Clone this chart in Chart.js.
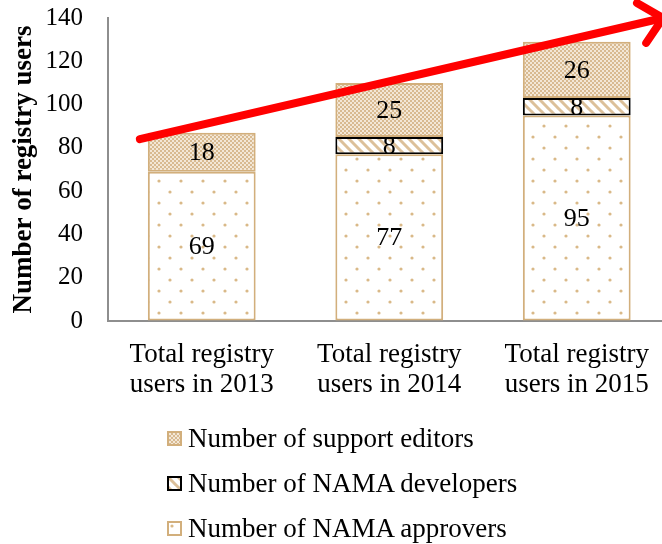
<!DOCTYPE html>
<html>
<head>
<meta charset="utf-8">
<script src="https://cdn.jsdelivr.net/npm/chart.js@4.4.1/dist/chart.umd.min.js"></script>
<style>
  html, body { margin: 0; padding: 0; background: #fff; overflow: hidden; }
  #wrap { position: relative; width: 662px; height: 544px; overflow: hidden; }
  #chart { position: absolute; left: 0; top: 0; }
  #legend { position: absolute; left: 167px; top: 416px; font-family: "Liberation Serif", "Times New Roman", serif; font-size: 27px; color: #000; }
  .item { height: 45px; display: flex; align-items: center; }
  .item canvas { width: 15px; height: 15px; margin-right: 6px; }
</style>
</head>
<body>
<div id="wrap">
  <canvas id="chart" width="672" height="405"></canvas>
  <div id="legend"></div>
</div>
<script>
// chart data
const categories = [
    ['Total registry', 'users in 2013'],
    ['Total registry', 'users in 2014'],
    ['Total registry', 'users in 2015']
];
const approvers = [69, 77, 95];
const developers = [0, 8, 8];
const editors = [18, 25, 26];

const yMin = 0;
const yMax = 140;
const yStep = 20;

// trend arrow, in category index / value units
const arrowFrom = { x: -0.33, y: 84 };
const arrowTo = { x: 2.46, y: 140 };

const TAN = '#D2AF7C';
const SERIF = '"Liberation Serif", "Times New Roman", serif';

function makePattern(kind) {
    const c = document.createElement('canvas');
    const g = c.getContext('2d');
    if (kind === 'dots') {
        c.width = 22; c.height = 22;
        g.fillStyle = '#fff';
        g.fillRect(0, 0, 22, 22);
        g.fillStyle = '#D9B988';
        [[5, 5], [16, 16]].forEach(p => {
            g.beginPath();
            g.arc(p[0], p[1], 1.6, 0, Math.PI * 2);
            g.fill();
        });
    } else if (kind === 'hatch') {
        c.width = 10; c.height = 10;
        g.fillStyle = '#fff';
        g.fillRect(0, 0, 10, 10);
        g.strokeStyle = '#DCC09A';
        g.lineWidth = 3;
        [[-10, 0], [0, 0], [10, 0]].forEach(o => {
            g.beginPath();
            g.moveTo(o[0] - 1, -1);
            g.lineTo(o[0] + 11, 11);
            g.stroke();
        });
    } else {
        c.width = 4; c.height = 4;
        g.fillStyle = '#D8BA91';
        g.fillRect(0, 0, 4, 4);
        g.fillStyle = '#F3E7D6';
        g.fillRect(0, 0, 2, 2);
        g.fillRect(2, 2, 2, 2);
    }
    return c;
}

const ctx = document.getElementById('chart').getContext('2d');
const dotFill = ctx.createPattern(makePattern('dots'), 'repeat');
const hatchFill = ctx.createPattern(makePattern('hatch'), 'repeat');
const checkFill = ctx.createPattern(makePattern('check'), 'repeat');

const valueLabels = {
    id: 'valueLabels',
    afterDatasetsDraw(chart) {
        const c = chart.ctx;
        c.save();
        c.font = '26px ' + SERIF;
        c.fillStyle = '#000';
        c.textAlign = 'center';
        c.textBaseline = 'middle';
        chart.data.datasets.forEach((ds, i) => {
            chart.getDatasetMeta(i).data.forEach((bar, j) => {
                const v = ds.data[j];
                if (!v) return;
                const p = bar.getCenterPoint();
                c.fillText(String(v), p.x, p.y + 1);
            });
        });
        c.restore();
    }
};

const trendArrow = {
    id: 'trendArrow',
    afterDraw(chart) {
        const x = chart.scales.x, y = chart.scales.y;
        const x1 = x.getPixelForValue(arrowFrom.x), y1 = y.getPixelForValue(arrowFrom.y);
        const x2 = x.getPixelForValue(arrowTo.x), y2 = y.getPixelForValue(arrowTo.y);
        const ang = Math.atan2(y1 - y2, x1 - x2);
        const c = chart.ctx;
        c.save();
        c.strokeStyle = '#FF0000';
        c.lineWidth = 8;
        c.lineCap = 'round';
        c.lineJoin = 'round';
        c.beginPath();
        c.moveTo(x1, y1);
        c.lineTo(x2, y2);
        c.stroke();
        c.beginPath();
        c.moveTo(x2 + 30 * Math.cos(ang + 0.75), y2 + 30 * Math.sin(ang + 0.75));
        c.lineTo(x2, y2);
        c.lineTo(x2 + 30 * Math.cos(ang - 0.75), y2 + 30 * Math.sin(ang - 0.75));
        c.stroke();
        c.restore();
    }
};

new Chart(ctx, {
    type: 'bar',
    data: {
        labels: categories,
        datasets: [{
            label: 'Number of NAMA approvers',
            data: approvers,
            backgroundColor: dotFill,
            borderColor: TAN,
            borderWidth: 2,
            borderSkipped: false
        }, {
            label: 'Number of NAMA developers',
            data: developers,
            backgroundColor: hatchFill,
            borderColor: '#000',
            borderWidth: c => c.raw ? 2 : 0,
            borderSkipped: false
        }, {
            label: 'Number of support editors',
            data: editors,
            backgroundColor: checkFill,
            borderColor: TAN,
            borderWidth: 2,
            borderSkipped: false
        }]
    },
    options: {
        responsive: false,
        animation: false,
        layout: {
            padding: { top: 0, right: 1.5, bottom: 0, left: 0 }
        },
        datasets: {
            bar: { barPercentage: 0.575, categoryPercentage: 1 }
        },
        plugins: {
            legend: { display: false },
            tooltip: { enabled: false }
        },
        scales: {
            x: {
                stacked: true,
                grid: { drawOnChartArea: false, drawTicks: false },
                border: { color: '#8E8E8E', width: 2 },
                ticks: {
                    color: '#000',
                    padding: 19,
                    maxRotation: 0,
                    autoSkip: false,
                    font: { family: SERIF, size: 27, lineHeight: 1.12 }
                },
                afterFit(scale) { scale.height = 84; }
            },
            y: {
                stacked: true,
                min: yMin,
                max: yMax,
                grid: { drawOnChartArea: false, drawTicks: false },
                border: { color: '#8E8E8E', width: 2 },
                ticks: {
                    stepSize: yStep,
                    color: '#000',
                    padding: 25,
                    font: { family: SERIF, size: 25 }
                },
                title: {
                    display: true,
                    text: 'Number of registry users',
                    color: '#000',
                    padding: 8,
                    font: { family: SERIF, size: 27, weight: 'bold' }
                },
                afterFit(scale) {
                    scale.width = 108;
                    scale.paddingTop = 18;
                }
            }
        }
    },
    plugins: [valueLabels, trendArrow]
});

// legend, listed top to bottom like the original
const legendItems = [
    { text: 'Number of support editors', kind: 'check', border: TAN },
    { text: 'Number of NAMA developers', kind: 'hatch', border: '#000' },
    { text: 'Number of NAMA approvers', kind: 'dots', border: TAN }
];
const legendEl = document.getElementById('legend');
legendItems.forEach(it => {
    const row = document.createElement('div');
    row.className = 'item';
    const sw = document.createElement('canvas');
    sw.width = 15; sw.height = 15;
    const g = sw.getContext('2d');
    g.fillStyle = g.createPattern(makePattern(it.kind), 'repeat');
    g.fillRect(0, 0, 15, 15);
    g.strokeStyle = it.border;
    g.lineWidth = 2;
    g.strokeRect(1, 1, 13, 13);
    const label = document.createElement('span');
    label.textContent = it.text;
    row.appendChild(sw);
    row.appendChild(label);
    legendEl.appendChild(row);
});
</script>
</body>
</html>
